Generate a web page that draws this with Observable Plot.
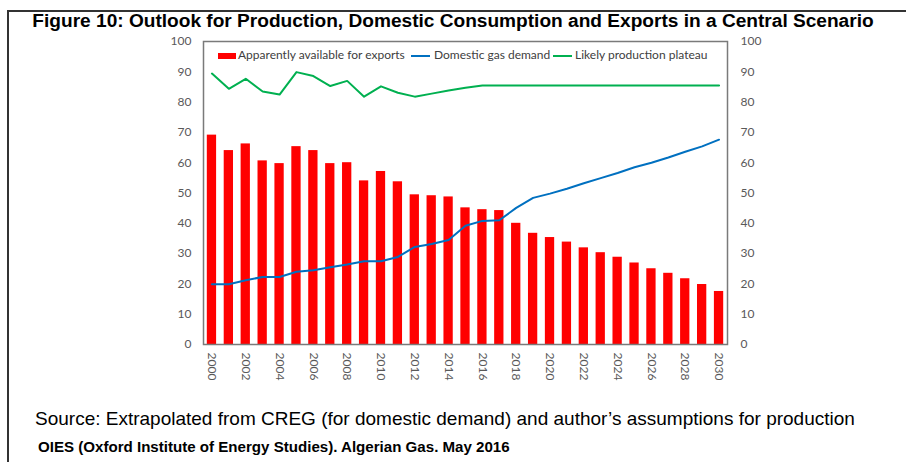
<!DOCTYPE html>
<html>
<head>
<meta charset="utf-8">
<script src="https://cdn.jsdelivr.net/npm/d3@7"></script>
<script src="https://cdn.jsdelivr.net/npm/@observablehq/plot@0.6"></script>
<style>
  html, body { margin: 0; padding: 0; background: #fff; }
  #wrap { position: relative; width: 906px; height: 462px; overflow: hidden; background: #fff; }
  #border { position: absolute; left: 7px; top: 10px; width: 1000px; height: 1000px; border-left: 2px solid #333; border-top: 2px solid #333; box-sizing: border-box; }
  #title { position: absolute; left: 0; width: 906px; top: 10px; text-align: center; font-family: "Liberation Sans", Arial, sans-serif; font-weight: bold; font-size: 19.1px; color: #000; white-space: nowrap; }
  #chart { position: absolute; left: 0; top: 0; }
  #legend { position: absolute; left: 0; top: 48px; width: 906px; height: 16px; font-family: Lato, "Open Sans", sans-serif; font-size: 12px; color: #404040; white-space: nowrap; }
  #legend .sw { position: absolute; }
  #legend .txt { position: absolute; top: 0; line-height: 14px; }
  #source { position: absolute; left: 35px; top: 408px; font-family: "Liberation Sans", Arial, sans-serif; font-size: 19px; color: #000; white-space: nowrap; }
  #credit { position: absolute; left: 38px; top: 438px; font-family: "Liberation Sans", Arial, sans-serif; font-weight: bold; font-size: 15.1px; color: #000; white-space: nowrap; }
</style>
</head>
<body>
<div id="wrap">
  <div id="border"></div>
  <div id="chart"></div>
  <div id="title">Figure 10: Outlook for Production, Domestic Consumption and Exports in a Central Scenario</div>
  <div id="legend"></div>
  <div id="source">Source: Extrapolated from CREG (for domestic demand) and author’s assumptions for production</div>
  <div id="credit">OIES (Oxford Institute of Energy Studies). Algerian Gas. May 2016</div>
</div>
<script>
const years = d3.range(2000, 2031);
const exportsAvail = [69.1, 64.0, 66.2, 60.6, 59.7, 65.3, 64.0, 59.7, 60.0, 54.0, 57.1, 53.7, 49.4, 49.1, 48.7,
  45.1, 44.5, 44.2, 40.0, 36.7, 35.3, 33.8, 31.9, 30.3, 28.8, 26.9, 25.0, 23.5, 21.7, 19.8, 17.5];
const domesticDemand = [19.9, 19.9, 21.2, 22.3, 22.3, 24.0, 24.5, 25.5, 26.4, 27.5, 27.5, 28.9, 32.2, 33.2, 34.5,
  39.2, 40.8, 41.0, 45.1, 48.4, 49.8, 51.4, 53.2, 54.9, 56.6, 58.5, 60.0, 61.7, 63.6, 65.4, 67.6];
const productionPlateau = [89.4, 84.4, 87.7, 83.5, 82.5, 89.9, 88.6, 85.3, 87.0, 81.8, 85.2, 83.1, 81.8, 82.8, 83.8,
  84.7, 85.5, 85.5, 85.5, 85.5, 85.5, 85.5, 85.5, 85.5, 85.5, 85.5, 85.5, 85.5, 85.5, 85.5, 85.5];
const yTicks = [0, 10, 20, 30, 40, 50, 60, 70, 80, 90, 100];
const xTickYears = years.filter(y => y % 2 === 0);
const seriesNames = ["Apparently available for exports", "Domestic gas demand", "Likely production plateau"];
const seriesColors = ["#ff0000", "#0070c0", "#00b050"];

const data = years.map((y, i) => ({year: y, exp: exportsAvail[i], dem: domesticDemand[i], prod: productionPlateau[i]}));

const axisFont = "Lato, 'Open Sans', sans-serif";
const chart = Plot.plot({
  width: 906,
  height: 400,
  marginLeft: 203,
  marginRight: 179,
  marginTop: 41,
  marginBottom: 56,
  style: {fontFamily: axisFont, fontSize: "12px", color: "#595959", background: "transparent"},
  x: {type: "band", domain: years, paddingInner: 0.45, paddingOuter: 0.225, round: false, label: null},
  y: {domain: [0, 100], label: null},
  marks: [
    Plot.barY(data, {x: "year", y: "exp", fill: seriesColors[0]}),
    Plot.line(data, {x: "year", y: "dem", stroke: seriesColors[1], strokeWidth: 2}),
    Plot.line(data, {x: "year", y: "prod", stroke: seriesColors[2], strokeWidth: 2}),
    Plot.frame({stroke: "#7a7a7a", strokeWidth: 1.5}),
    Plot.axisY({anchor: "left", ticks: yTicks, tickSize: 0, tickPadding: 12, label: null, fill: "#595959"}),
    Plot.axisY({anchor: "right", ticks: yTicks, tickSize: 0, tickPadding: 13, label: null, fill: "#595959"}),
    Plot.axisX({ticks: xTickYears, tickSize: 0, tickPadding: 8, tickRotate: 90, label: null, fill: "#595959", tickFormat: d => String(d)})
  ]
});
document.getElementById("chart").appendChild(chart);

// legend layout: swatch left edges and text left edges (px)
const legendSwatchX = [218, 411, 553];
const legendTextX = [238, 434, 575];
const legend = document.getElementById("legend");
seriesNames.forEach((name, i) => {
  const sw = document.createElement("span");
  sw.className = "sw";
  sw.style.left = legendSwatchX[i] + "px";
  sw.style.background = seriesColors[i];
  if (i === 0) { sw.style.width = "18px"; sw.style.height = "6px"; sw.style.top = "5px"; }
  else { sw.style.width = "19px"; sw.style.height = "2px"; sw.style.top = "7px"; }
  legend.appendChild(sw);
  const t = document.createElement("span");
  t.className = "txt";
  t.style.left = legendTextX[i] + "px";
  t.textContent = name;
  legend.appendChild(t);
});
</script>
</body>
</html>
